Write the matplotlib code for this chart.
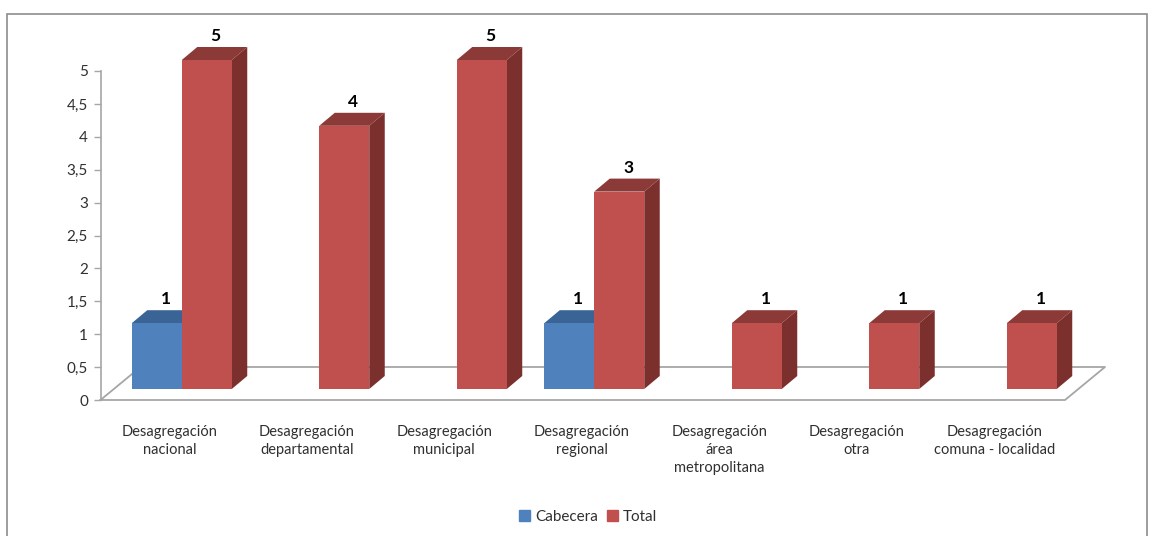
import matplotlib
matplotlib.use("Agg")
import matplotlib.pyplot as plt
from matplotlib.patches import Rectangle

plt.rcParams['font.family'] = ['Lato', 'DejaVu Sans']

categories = ["Desagregación\nnacional", "Desagregación\ndepartamental", "Desagregación\nmunicipal",
              "Desagregación\nregional", "Desagregación\nárea\nmetropolitana", "Desagregación\notra",
              "Desagregación\ncomuna - localidad"]
cabecera = [1, None, None, 1, None, None, None]
total = [5, 4, 5, 3, 1, 1, 1]
yticks = [0, 0.5, 1, 1.5, 2, 2.5, 3, 3.5, 4, 4.5, 5]
ylabels = ["0", "0,5", "1", "1,5", "2", "2,5", "3", "3,5", "4", "4,5", "5"]

W, H = 1154, 536
L, R, B, T = 100.5, 1063, 400, 71
fig = plt.figure(figsize=(W / 100, H / 100), dpi=100, facecolor="white")
ax = fig.add_axes([L / W, 1 - B / H, (R - L) / W, (B - T) / H])
ax.set_xlim(0, len(categories))
ax.set_ylim(0, 5)
ux = (R - L) / len(categories)   # pixels per category
uy = (B - T) / 5                 # pixels per value unit

GRID = "#A6A6A6"
TXT = "#303030"
RED = ("#C0504D", "#8C3A38", "#7C302E")
BLUE = ("#4F81BD", "#3A6496", "#335A88")

# plot frame around chart
fig.add_artist(Rectangle((7 / W, -0.01), 1140 / W, 1 - 14 / H + 0.01, transform=fig.transFigure,
                         fill=False, ec="#8C8C8C", lw=1.2))

# floor
fdx, fdy = 40 / ux, 33 / uy
fx = 2 / ux
ax.plot([0, 7 + fx, 7 + fx + fdx, fdx, 0], [0, 0, fdy, fdy, 0], color=GRID, lw=1.3, clip_on=False, zorder=1)

# bars
bw, ddx, ddy = 50 / ux, 15.5 / ux, 13 / uy
base, shift = 11 / uy, 12.5 / ux


def bar3d(x0, v, cols):
    x1, y0, y1 = x0 + bw, base, base + v
    kw = dict(clip_on=False, zorder=3, lw=0)
    ax.fill([x0, x1, x1 + ddx, x0 + ddx], [y1, y1, y1 + ddy, y1 + ddy], color=cols[1], **kw)
    ax.fill([x1, x1 + ddx, x1 + ddx, x1], [y0, y0 + ddy, y1 + ddy, y1], color=cols[2], **kw)
    ax.fill([x0, x1, x1, x0], [y0, y0, y1, y1], color=cols[0], **kw)


def value_label(x0, v):
    ax.text(x0 + bw / 2 + 9 / ux, base + v + 24 / uy, str(v), ha="center", va="center",
            fontsize=12.5, fontweight="bold", color="black", clip_on=False)


for i, (c, t) in enumerate(zip(cabecera, total)):
    mid = i + 0.5 + shift
    if c is not None:
        bar3d(mid - bw, c, BLUE)
        value_label(mid - bw, c)
    bar3d(mid, t, RED)
    value_label(mid, t)

# axes
for s in ["top", "right", "bottom"]:
    ax.spines[s].set_visible(False)
ax.spines["left"].set_color(GRID)
ax.spines["left"].set_linewidth(1.2)
ax.patch.set_alpha(0)
ax.set_yticks(yticks, ylabels)
ax.tick_params(axis="y", length=5, width=1, color=GRID, labelcolor=TXT, labelsize=11, pad=4)
ax.set_xticks([i + 0.5 for i in range(len(categories))], categories)
ax.tick_params(axis="x", length=0, labelcolor=TXT, labelsize=10.5, pad=18)
for lab in ax.get_xticklabels():
    lab.set_linespacing(1.35)

# legend
handles = [Rectangle((0, 0), 1, 1, color=BLUE[0]), Rectangle((0, 0), 1, 1, color=RED[0])]
fig.legend(handles, ["Cabecera", "Total"], loc="center", bbox_to_anchor=(588 / W, 1 - 517 / H), ncol=2,
           frameon=False, fontsize=11, labelcolor=TXT, handlelength=0.75, handleheight=0.75,
           handletextpad=0.3, columnspacing=0.6)

fig.savefig("out.png", dpi=100)
